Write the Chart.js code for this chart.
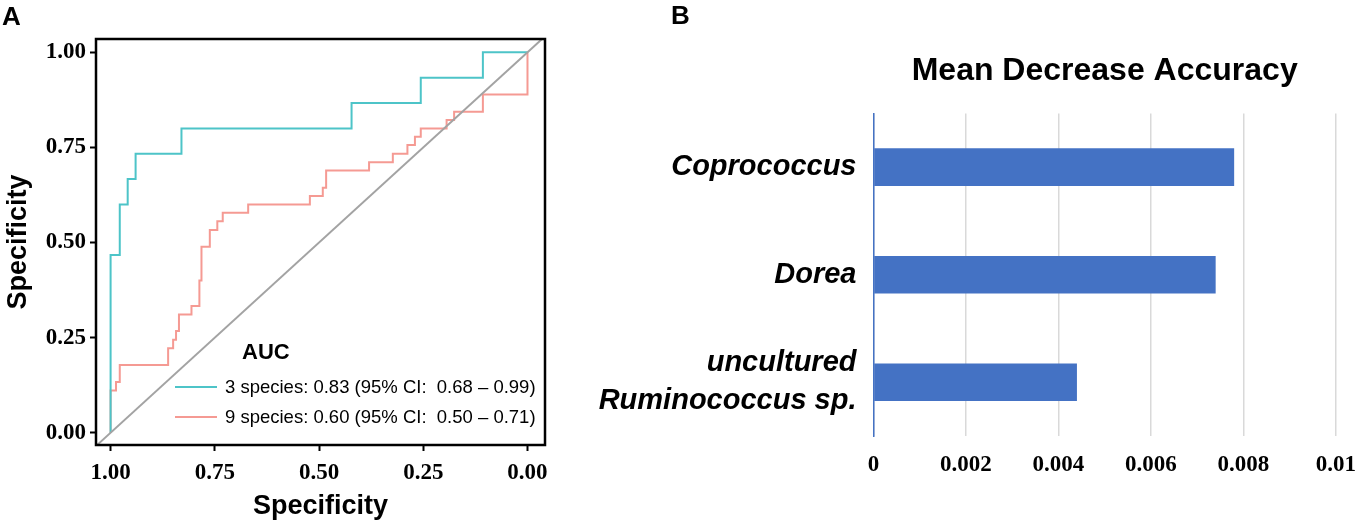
<!DOCTYPE html>
<html>
<head>
<meta charset="utf-8">
<title>ROC curves and Mean Decrease Accuracy</title>
<script src="https://cdn.jsdelivr.net/npm/chart.js@4.4.1/dist/chart.umd.min.js"></script>
<style>
    html, body { margin: 0; padding: 0; background: #fff; }
    body { width: 1371px; height: 526px; position: relative; overflow: hidden; font-family: "Liberation Sans", Arial, sans-serif; }
    #rocBox { position: absolute; left: 0; top: 0; width: 560px; height: 526px; }
    #barBox { position: absolute; left: 590px; top: 0; width: 781px; height: 526px; }
    .panel-tag { position: absolute; font-weight: bold; font-size: 26px; line-height: 26px; color: #000; }
</style>
</head>
<body>
<div id="rocBox"><canvas id="rocChart" width="560" height="526"></canvas></div>
<div id="barBox"><canvas id="barChart" width="781" height="526"></canvas></div>
<div class="panel-tag" style="left:2px; top:3px;">A</div>
<div class="panel-tag" style="left:671px; top:2px;">B</div>

<script>
// ---------- panel A: ROC curves ----------
const seriesNames = [
    '3 species: 0.83 (95% CI:  0.68 \u2013 0.99)',
    '9 species: 0.60 (95% CI:  0.50 \u2013 0.71)'
];
const seriesColors = ['#4DC4C8', '#F59A93'];
const legendTitle = 'AUC';

// step corners (specificity on x, reversed)
const spec3 = [1, 1, 0.978, 0.959, 0.940, 0.830, 0.422, 0.256, 0.107, 0];
const sens3 = [0, 0.467, 0.600, 0.667, 0.733, 0.800, 0.867, 0.933, 1.000, 1.000];

const spec9 = [1, 1, 0.987, 0.978, 0.862, 0.850, 0.843, 0.836, 0.806, 0.787, 0.782, 0.762, 0.744, 0.731,
               0.670, 0.522, 0.491, 0.483, 0.380, 0.323, 0.288, 0.270, 0.256, 0.194, 0.176, 0.107, 0, 0];
const sens9 = [0, 0.111, 0.133, 0.178, 0.222, 0.244, 0.267, 0.311, 0.333, 0.400, 0.489, 0.533, 0.556, 0.578,
               0.600, 0.622, 0.644, 0.689, 0.711, 0.733, 0.756, 0.778, 0.800, 0.822, 0.844, 0.889, 0.933, 1.000];

// chance line, runs past both ends and gets clipped by the plot area
const diagSpec = [1.1, -0.1];
const diagSens = [-0.1, 1.1];

const specTicks = [0, 0.25, 0.5, 0.75, 1];
const specTickLabels = ['0.00', '0.25', '0.50', '0.75', '1.00'];
const xTitleA = 'Specificity';
const yTitleA = 'Specificity';

// ---------- panel B: bars ----------
const taxa = ['Coprococcus', 'Dorea', ['uncultured', 'Ruminococcus sp.']];
const mdaValues = [0.0078, 0.0074, 0.0044];
const mdaTicks = [0, 0.002, 0.004, 0.006, 0.008, 0.01];
const mdaTickLabels = ['0', '0.002', '0.004', '0.006', '0.008', '0.01'];
const titleB = 'Mean Decrease Accuracy';

Chart.defaults.font.family = '"Liberation Sans", Arial, sans-serif';
Chart.defaults.color = '#000';

function toPoints(xs, ys) {
    return xs.map((x, i) => ({ x: x, y: ys[i] }));
}

const tickFont = { family: '"Liberation Serif", "Times New Roman", serif', weight: 'bold', size: 23 };
const axisTitleFont = { family: '"Liberation Sans", Arial, sans-serif', weight: 'bold', size: 27 };

/* frame round the ROC plot */
const framePlugin = {
    id: 'frame',
    afterDraw(chart) {
        const { ctx, chartArea: a } = chart;
        ctx.save();
        ctx.strokeStyle = '#000';
        ctx.lineWidth = 2.5;
        ctx.strokeRect(a.left, a.top, a.right - a.left, a.bottom - a.top);
        ctx.restore();
    }
};

/* AUC legend in the lower right of the plot */
const rocLegend = {
    id: 'rocLegend',
    afterDatasetsDraw(chart) {
        const { ctx, chartArea: a } = chart;
        ctx.save();
        ctx.textBaseline = 'middle';
        ctx.textAlign = 'left';
        ctx.fillStyle = '#000';
        ctx.font = 'bold 22px "Liberation Sans", Arial, sans-serif';
        ctx.fillText(legendTitle, a.left + 146, a.bottom - 92);

        ctx.font = '18.5px "Liberation Sans", Arial, sans-serif';
        seriesNames.forEach((name, i) => {
            const y = a.bottom - 58 + i * 30;
            ctx.strokeStyle = seriesColors[i];
            ctx.lineWidth = 2;
            ctx.beginPath();
            ctx.moveTo(a.left + 79, y);
            ctx.lineTo(a.left + 121, y);
            ctx.stroke();
            ctx.fillStyle = '#000';
            ctx.fillText(name, a.left + 129, y + 1);
        });
        ctx.restore();
    }
};

function specAxis(extra) {
    return Object.assign({
        type: 'linear',
        grid: { display: true, drawOnChartArea: false, drawTicks: true, tickLength: 6, tickColor: '#000', tickWidth: 2 },
        border: { display: false },
        afterBuildTicks: scale => { scale.ticks = specTicks.map(v => ({ value: v })); }
    }, extra);
}

new Chart(document.getElementById('rocChart'), {
    type: 'scatter',
    data: {
        datasets: [
            {
                label: 'chance',
                data: toPoints(diagSpec, diagSens),
                showLine: true,
                borderColor: '#A3A3A3',
                borderWidth: 2,
                pointRadius: 0,
                order: 0
            },
            {
                label: seriesNames[0],
                data: toPoints(spec3, sens3),
                showLine: true,
                stepped: 'before',
                borderColor: seriesColors[0],
                borderWidth: 2,
                pointRadius: 0,
                order: 1
            },
            {
                label: seriesNames[1],
                data: toPoints(spec9, sens9),
                showLine: true,
                stepped: 'before',
                borderColor: seriesColors[1],
                borderWidth: 2,
                pointRadius: 0,
                order: 2
            }
        ]
    },
    options: {
        responsive: false,
        animation: false,
        layout: { padding: { top: 39, right: 15, left: 0, bottom: 0 } },
        plugins: {
            legend: { display: false },
            tooltip: { enabled: false }
        },
        scales: {
            x: specAxis({
                reverse: true,
                min: -0.042,
                max: 1.035,
                afterFit: scale => { scale.height = 81; },
                title: { display: true, text: xTitleA, font: axisTitleFont, color: '#000', padding: { top: 0, bottom: 3 } },
                ticks: {
                    padding: 8,
                    maxRotation: 0,
                    font: tickFont,
                    color: '#000',
                    callback: value => specTickLabels[specTicks.indexOf(value)]
                }
            }),
            y: specAxis({
                min: -0.0324,
                max: 1.035,
                afterFit: scale => { scale.width = 96; },
                title: { display: true, text: yTitleA, font: axisTitleFont, color: '#000', padding: { top: 2, bottom: 0 } },
                ticks: {
                    padding: 4,
                    font: tickFont,
                    color: '#000',
                    callback: value => specTickLabels[specTicks.indexOf(value)]
                }
            })
        }
    },
    plugins: [framePlugin, rocLegend]
});

/* -------------------- PANEL B -------------------- */

new Chart(document.getElementById('barChart'), {
    type: 'bar',
    data: {
        labels: taxa,
        datasets: [{
            label: titleB,
            data: mdaValues,
            backgroundColor: '#4472C4',
            barPercentage: 0.35,
            categoryPercentage: 1.0
        }]
    },
    options: {
        indexAxis: 'y',
        responsive: false,
        animation: false,
        layout: { padding: { top: 0, right: 23, left: 0, bottom: 0 } },
        plugins: {
            legend: { display: false },
            tooltip: { enabled: false },
            title: {
                display: true,
                fullSize: false,
                text: titleB,
                color: '#000',
                font: { family: '"Liberation Sans", Arial, sans-serif', weight: 'bold', size: 32 },
                padding: { top: 52, bottom: 23 }
            }
        },
        scales: {
            x: {
                min: 0,
                max: 0.01,
                afterBuildTicks: scale => { scale.ticks = mdaTicks.map(v => ({ value: v })); },
                afterFit: scale => { scale.height = 90; },
                grid: { color: '#D9D9D9', lineWidth: 1.5, drawTicks: false },
                border: { display: false },
                ticks: {
                    padding: 15,
                    maxRotation: 0,
                    font: tickFont,
                    color: '#000',
                    callback: (value, i) => mdaTickLabels[i]
                }
            },
            y: {
                afterFit: scale => { scale.width = 283.5; },
                grid: { display: false },
                border: { display: true, color: '#4472C4', width: 1.5 },
                ticks: {
                    padding: 9,
                    color: '#000',
                    font: { family: '"Liberation Sans", Arial, sans-serif', weight: 'bold', style: 'italic', size: 29, lineHeight: 1.3 }
                }
            }
        }
    }
});
</script>
</body>
</html>
